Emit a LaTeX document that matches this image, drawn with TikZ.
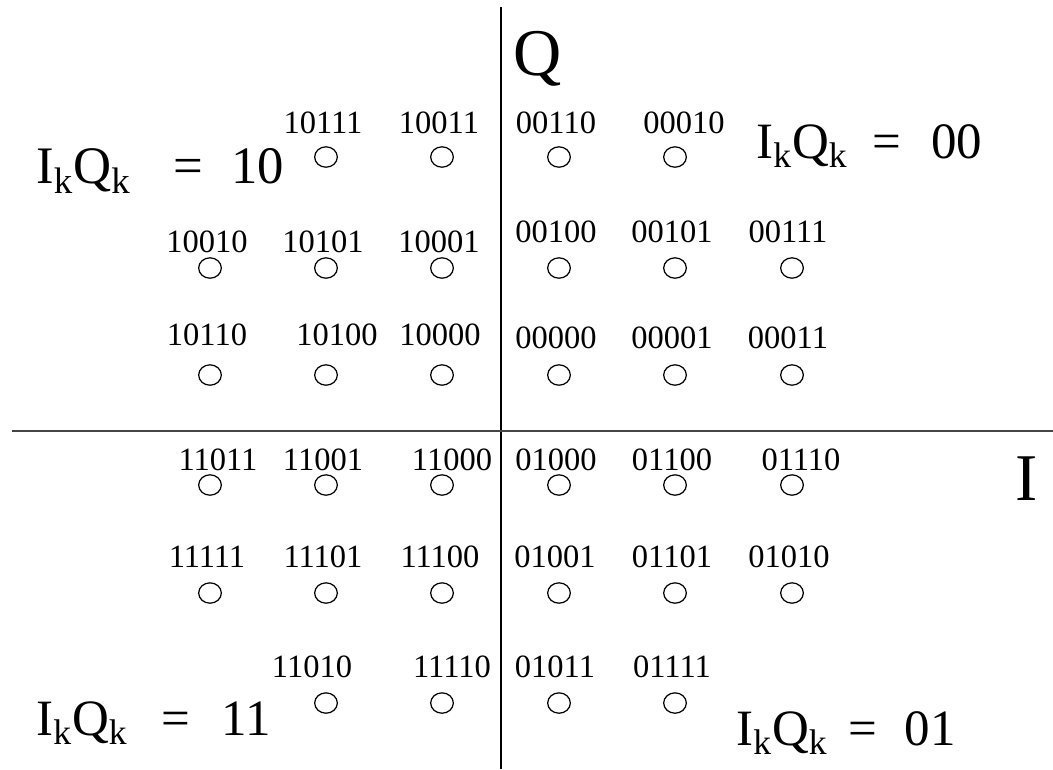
\documentclass[tikz,border=0pt]{standalone}
\usepackage{fontspec}
\setmainfont{Liberation Serif}
\usepackage{tikz}
\usetikzlibrary{shapes.geometric}
\definecolor{axisgrey}{RGB}{70,70,70}

\begin{document}
\begin{tikzpicture}[x=0.02cm,y=-0.02cm,
 pt/.style={draw,ellipse,line width=0.7pt,inner sep=0pt,minimum width=12.9pt,minimum height=11.6pt},
 bits/.style={inner sep=0pt,anchor=base,font={\fontsize{18.5pt}{20pt}\selectfont}},
 big/.style={inner sep=0pt,anchor=base west,font={\fontsize{29pt}{32pt}\selectfont}},
 axis/.style={inner sep=0pt,anchor=base,font={\fontsize{38pt}{40pt}\selectfont}}]
\useasboundingbox (0,0) rectangle (1053,769);
\coordinate (qtop) at (501,7);\coordinate (qbot) at (501,769);
\coordinate (ileft) at (12,431);\coordinate (iright) at (1053,431);
\draw[line width=1pt] (qtop)--(qbot);
\draw[line width=1.1pt,axisgrey] (ileft)--(iright);
\node[axis] (qlab) at (538,75) {Q};
\node[axis] (ilab) at (1027,500) {I};
\foreach \x/\y/\lx/\ly/\s in {326/157/323/133/10111,442/157/439/133/10011,559/157/556/133/00110,675/157/684/133/00010,
 210/268/207/252/10010,326/268/323/252/10101,442/268/439/252/10001,559/268/556/242/00100,675/268/672/242/00101,792/268/788/242/00111,
 210/375/207/345/10110,326/375/337/345/10100,442/375/440/345/10000,559/375/556/348/00000,675/375/672/348/00001,792/375/788/348/00011,
 210/485/218/470/11011,326/485/323/470/11001,442/485/452/470/11000,559/485/556/470/01000,675/485/672/470/01100,792/485/801/470/01110,
 210/593/207/567/11111,326/593/323/567/11101,442/593/440/567/11100,559/593/555/567/01001,675/593/672/567/01101,792/593/789/567/01010,
 326/703/312/677/11010,442/703/452/677/11110,559/703/555/677/01011,675/703/672/677/01111}{
 \node[pt] (p\s) at (\x,\y) {};
 \node[bits] (t\s) at (\lx,\ly) {\s};}
\node[big,font={\fontsize{30pt}{32pt}\selectfont}] (q10) at (36,183) {I\textsubscript{k}Q\textsubscript{k}\hspace{0.82em}=\hspace{0.53em}10};
\node[big] (q00) at (756,158) {I\textsubscript{k}Q\textsubscript{k}\hspace{0.48em}=\hspace{0.6em}00};
\node[big] (q11) at (36,735) {I\textsubscript{k}Q\textsubscript{k}\hspace{0.67em}=\hspace{0.61em}11};
\node[big] (q01) at (736,745) {I\textsubscript{k}Q\textsubscript{k}\hspace{0.42em}=\hspace{0.53em}01};
\end{tikzpicture}
\end{document}
